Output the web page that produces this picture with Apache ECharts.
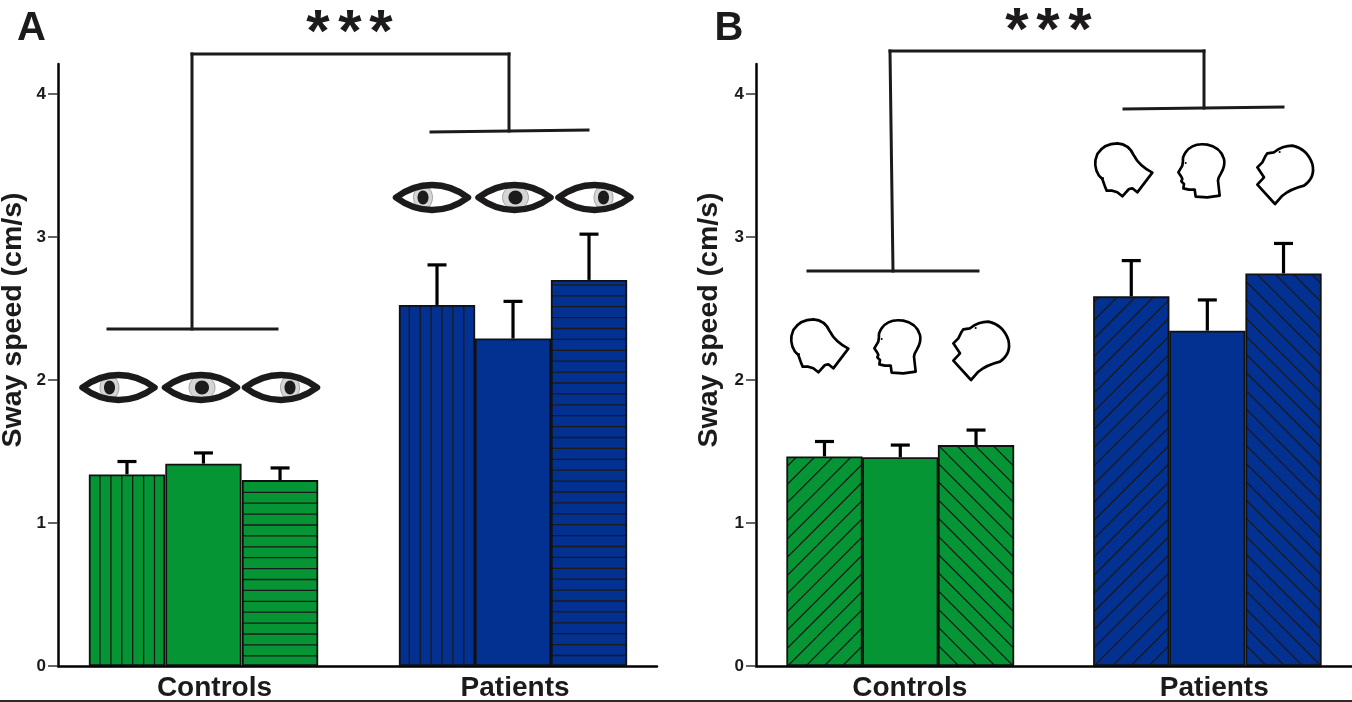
<!DOCTYPE html>
<html>
<head>
<meta charset="utf-8">
<style>html,body{margin:0;padding:0;background:#fff}#c{width:1352px;height:702px}</style>
<script src="https://cdn.jsdelivr.net/npm/echarts@6/dist/echarts.min.js"></script>
</head>
<body>
<div id="c"></div>
<script>
// ---- data ----
var yTicks = [0, 1, 2, 3, 4];
var groupNames = ['Controls', 'Patients'];

var positionsA = [0.904, 1.906, 2.91, 4.967, 5.963, 6.959];
var valuesA    = [1.34, 1.415, 1.30, 2.525, 2.29, 2.70];
var errorTopsA = [1.43, 1.49, 1.385, 2.805, 2.55, 3.02];
var labelPosA  = [2.05, 5.99];

var positionsB = [0.895, 1.886, 2.876, 4.905, 5.899, 6.895];
var valuesB    = [1.465, 1.46, 1.545, 2.585, 2.345, 2.745];
var errorTopsB = [1.57, 1.545, 1.65, 2.835, 2.56, 2.955];
var labelPosB  = [2.01, 5.99];

var GREEN = '#059534', BLUE = '#023192', INK = '#1c1a1b';
var FONT = '"Liberation Sans", Arial, sans-serif';

// ---- hatch tiles ----
function tile(bg, kind, phase) {
  var straight = kind === 'v' || kind === 'h';
  var period = straight ? 10.9 : 18.2;
  var size = straight ? 109 : 91;
  var cv = document.createElement('canvas');
  cv.width = size; cv.height = size;
  var g = cv.getContext('2d');
  g.fillStyle = bg; g.fillRect(0, 0, size, size);
  g.strokeStyle = INK; g.lineWidth = 1.3;
  g.beginPath();
  for (var c = phase - 2 * size; c < 3 * size; c += period) {
    if (kind === 'v') { g.moveTo(c, 0); g.lineTo(c, size); }
    if (kind === 'h') { g.moveTo(0, c); g.lineTo(size, c); }
    if (kind === 'f') { g.moveTo(c, 0); g.lineTo(c - size, size); }
    if (kind === 'b') { g.moveTo(c, 0); g.lineTo(c + size, size); }
  }
  g.stroke();
  return { image: cv, repeat: 'repeat' };
}
var fillsA = [
  tile(GREEN, 'v', 1.9), GREEN, tile(GREEN, 'h', 1.8),
  tile(BLUE, 'v', 6.0), BLUE, tile(BLUE, 'h', 1.5)
];
var fillsB = [
  tile(GREEN, 'f', 15.9), GREEN, tile(GREEN, 'b', 1.6),
  tile(BLUE, 'f', 12.9), BLUE, tile(BLUE, 'b', 0.0)
];

function barData(pos, vals, fills) {
  return pos.map(function (p, i) {
    return { value: [p, vals[i]], itemStyle: { color: fills[i] } };
  });
}
function errData(pos, vals, tops) {
  return pos.map(function (p, i) { return [p, vals[i], tops[i]]; });
}
function renderErr(params, api) {
  var a = api.coord([api.value(0), api.value(1)]);
  var b = api.coord([api.value(0), api.value(2)]);
  var st = { stroke: '#000', lineWidth: 3.2, fill: null };
  return { type: 'group', children: [
    { type: 'line', shape: { x1: a[0], y1: a[1], x2: b[0], y2: b[1] }, style: st },
    { type: 'line', shape: { x1: a[0] - 9.5, y1: b[1], x2: a[0] + 9.5, y2: b[1] }, style: st }
  ]};
}

function xAxis(idx, max, labelPos) {
  return {
    type: 'value', gridIndex: idx, min: 0, max: max, splitLine: { show: false },
    axisLine: { show: true, onZero: false, lineStyle: { color: '#000', width: 2.5 } },
    axisTick: { show: false },
    axisLabel: {
      show: true, customValues: labelPos, margin: 8, hideOverlap: false,
      color: INK, fontFamily: FONT, fontWeight: 'bold', fontSize: 28,
      formatter: function (v) { return groupNames[labelPos.indexOf(v)] || ''; }
    }
  };
}
function yAxis(idx, gap) {
  return {
    type: 'value', gridIndex: idx, min: 0, max: 4.21, interval: 1, splitLine: { show: false },
    name: 'Sway speed (cm/s)', nameLocation: 'middle', nameGap: gap, nameRotate: 90,
    nameTextStyle: { color: INK, fontFamily: FONT, fontWeight: 'bold', fontSize: 28.5, padding: [0, 0, 0, 90] },
    axisLine: { show: true, lineStyle: { color: '#000', width: 2.5 } },
    axisTick: { show: true, length: 10, customValues: yTicks, lineStyle: { color: '#333', width: 1.5 } },
    axisLabel: { margin: 12, color: INK, fontFamily: FONT, fontWeight: 'bold', fontSize: 17,
      customValues: yTicks, formatter: function (v) { return String(v); } }
  };
}
function barSeries(idx, pos, vals, fills, w) {
  return { type: 'bar', xAxisIndex: idx, yAxisIndex: idx, barWidth: w, animation: false,
    itemStyle: { borderColor: '#111', borderWidth: 1.8 }, data: barData(pos, vals, fills), z: 2 };
}
function errSeries(idx, pos, vals, tops) {
  return { type: 'custom', xAxisIndex: idx, yAxisIndex: idx, renderItem: renderErr, animation: false,
    encode: { x: 0, y: [1, 2] }, data: errData(pos, vals, tops), z: 1 };
}

// ---- annotations (brackets, icons, panel letters, stars) ----
var EYE = 'M-36 0C-24 -9 -12 -12.5 0 -12.5C12 -12.5 24 -9 36 0C24 9 12 12.5 0 12.5C-12 12.5 -24 9 -36 0Z';
var HEAD_L = 'M235 146Q195 125 180 95Q165 60 130 58Q90 58 70 90Q55 125 75 155L85 165L92 185L98 200L115 200L130 205L145 217L165 195L175 193L190 205Z';
var HEAD_M = 'M437 215L432 170Q433 160 440 150Q455 125 450 105Q440 70 400 62Q355 55 335 85Q325 100 327 110L325 125L313 145L322 158L325 165L322 172L330 180L328 193L345 197L362 197L365 218L400 220Z';
var HEAD_R = 'M603 240L550 182L570 160L550 130L565 115L575 95L580 88L600 85Q625 65 655 65Q700 75 715 120Q725 160 690 185Q650 195 625 215Z';
var HEAD_DOTS = [[87, 162], [335, 117], [617, 84]];

echarts.graphic.registerShape('eyeLens', echarts.graphic.extendPath(EYE, {}));
echarts.graphic.registerShape('headL', echarts.graphic.extendPath(HEAD_L, {}));
echarts.graphic.registerShape('headM', echarts.graphic.extendPath(HEAD_M, {}));
echarts.graphic.registerShape('headR', echarts.graphic.extendPath(HEAD_R, {}));

function eye(cx, cy, ix, rx) {
  return { type: 'group', x: cx, y: cy, children: [
    { type: 'eyeLens', style: { fill: '#fff', stroke: null } },
    { type: 'ellipse', shape: { cx: ix, cy: 0, rx: rx, ry: 12 }, style: { fill: '#d4d5d6', stroke: '#777', lineWidth: 0.6 } },
    { type: 'ellipse', shape: { cx: ix, cy: 0, rx: rx > 11 ? 7 : 5.5, ry: 7 }, style: { fill: INK } },
    { type: 'eyeLens', style: { fill: null, stroke: INK, lineWidth: 6.5, lineJoin: 'round' } }
  ]};
}
function heads(dx, dy) {
  var kids = ['headL', 'headM', 'headR'].map(function (t) {
    return { type: t, style: { fill: '#fff', stroke: '#000', lineWidth: 8, lineJoin: 'round' } };
  });
  HEAD_DOTS.forEach(function (p) {
    kids.push({ type: 'circle', shape: { cx: p[0], cy: p[1], r: 3 }, style: { fill: '#000' } });
  });
  return { type: 'group', x: dx, y: dy, scaleX: 1 / 3, scaleY: 1 / 3, children: kids };
}
function seg(x1, y1, x2, y2) {
  return { type: 'line', shape: { x1: x1, y1: y1, x2: x2, y2: y2 }, style: { stroke: INK, lineWidth: 3, lineCap: 'square' } };
}
function txt(s, x, y, size) {
  return { type: 'text', x: x, y: y, style: { text: s, fill: INK, font: 'bold ' + size + 'px ' + FONT, textAlign: 'center', textVerticalAlign: 'middle' } };
}
var annotations = [
  seg(108, 329, 277, 329), seg(192, 329, 192, 54), seg(192, 54, 509, 54), seg(509, 54, 509, 131), seg(431, 132, 588, 130),
  seg(808, 271, 978, 271), seg(893, 271, 890, 51), seg(890, 51, 1204, 51), seg(1204, 51, 1204, 108), seg(1124, 109, 1283, 107),
  eye(118.5, 387.5, -9, 9.5), eye(201, 387.5, 1, 13), eye(281, 387.5, 9, 9.5),
  eye(432, 197.5, -9, 9.5), eye(514.5, 197.5, 1, 13), eye(594.5, 197.5, 9, 9.5),
  heads(770, 300), heads(1074, 124),
  txt('A', 31.5, 29, 40), txt('B', 729, 29, 40),
  txt('*', 318, 34, 60), txt('*', 350, 34, 60), txt('*', 381, 34, 60),
  txt('*', 1017, 32, 60), txt('*', 1048, 32, 60), txt('*', 1080, 32, 60),
  { type: 'rect', shape: { x: 0, y: 700, width: 1352, height: 2 }, style: { fill: '#2b2b2b' } }
];

var chart = echarts.init(document.getElementById('c'), null, { renderer: 'canvas' });
chart.setOption({
  animation: false,
  backgroundColor: '#fff',
  grid: [
    { left: 58, top: 64, width: 599, height: 602, outerBoundsMode: 'none' },
    { left: 756, top: 64, width: 596, height: 602, outerBoundsMode: 'none' }
  ],
  xAxis: [xAxis(0, 7.85, labelPosA), xAxis(1, 7.79, labelPosB)],
  yAxis: [yAxis(0, 30), yAxis(1, 32)],
  series: [
    barSeries(0, positionsA, valuesA, fillsA, 76.3),
    errSeries(0, positionsA, valuesA, errorTopsA),
    barSeries(1, positionsB, valuesB, fillsB, 76.3),
    errSeries(1, positionsB, valuesB, errorTopsB)
  ],
  graphic: { elements: annotations }
});
</script>
</body>
</html>
